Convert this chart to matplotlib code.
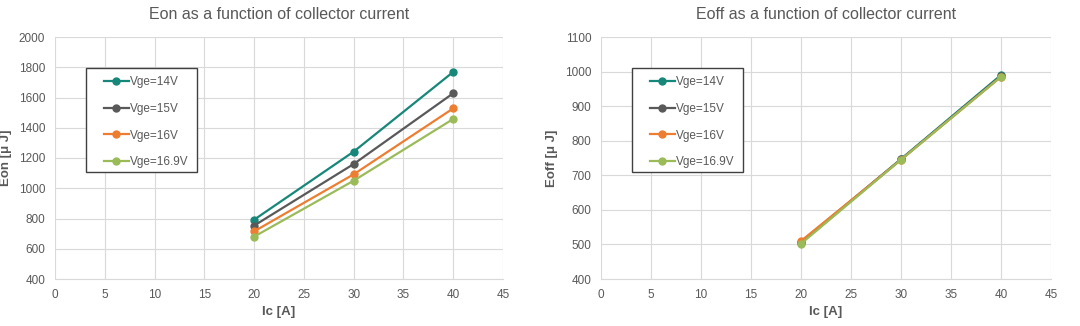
import matplotlib
matplotlib.use('Agg')
import matplotlib.pyplot as plt
from matplotlib.patches import Rectangle

plt.rcParams.update({
    'font.family': ['Liberation Sans', 'DejaVu Sans'],
    'font.size': 9,
})

# collector current points
ic = [20, 30, 40]
labels = ['Vge=14V', 'Vge=15V', 'Vge=16V', 'Vge=16.9V']
colors = ['#17877a', '#595959', '#ed7d31', '#9bbb59']

# turn-on energy [uJ]
eon_14 = [792, 1242, 1769]
eon_15 = [753, 1160, 1628]
eon_16 = [715, 1092, 1528]
eon_169 = [680, 1050, 1458]

# turn-off energy [uJ]
eoff_14 = [505, 747, 990]
eoff_15 = [507, 746, 987]
eoff_16 = [510, 745, 985]
eoff_169 = [502, 745, 985]

TXT = '#595959'
GRID = '#d9d9d9'

fig = plt.figure(figsize=(10.8, 3.26), dpi=100)
ax1 = fig.add_axes([55 / 1080, 47 / 326, 448 / 1080, 242 / 326])
ax2 = fig.add_axes([601 / 1080, 47 / 326, 450 / 1080, 242 / 326])


def style(ax, title, ylabel, ylim, yticks, ylab_x):
    ax.set_xlim(0, 45)
    ax.set_ylim(*ylim)
    ax.set_xticks(range(0, 46, 5))
    ax.set_yticks(yticks)
    ax.grid(True, color=GRID, linewidth=0.8)
    ax.set_axisbelow(True)
    for s in ['top', 'right', 'left']:
        ax.spines[s].set_visible(False)
    ax.spines['bottom'].set_color(GRID)
    ax.tick_params(length=0, colors=TXT, labelsize=8.5, pad=7)
    ax.set_title(title, color=TXT, fontsize=11.5, pad=13)
    ax.set_xlabel('Ic [A]', color=TXT, fontsize=9.5, fontweight='bold', labelpad=4)
    ax.set_ylabel(ylabel, color=TXT, fontsize=9.5, fontweight='bold')
    ax.yaxis.set_label_coords(ylab_x, 0.5)


def boxed_legend(ax, w_px):
    # frame drawn separately so the inner margins can differ per side
    ax.add_patch(Rectangle((31 / w_px, 1 - 135 / 242), 111 / w_px, 104 / 242,
                           transform=ax.transAxes, facecolor='white',
                           edgecolor='#404040', linewidth=1.0, zorder=4))
    leg = ax.legend(loc='upper left', bbox_to_anchor=(49 / w_px, 1 - 39 / 242),
                    frameon=False, fontsize=8.5, labelspacing=1.25,
                    handlelength=2.1, handletextpad=0.1, borderpad=0,
                    borderaxespad=0)
    leg.set_zorder(5)
    for t in leg.get_texts():
        t.set_color(TXT)


for ys, c, lab in zip([eon_14, eon_15, eon_16, eon_169], colors, labels):
    ax1.plot(ic, ys, color=c, marker='o', markersize=5, linewidth=1.6, label=lab)
for ys, c, lab in zip([eoff_14, eoff_15, eoff_16, eoff_169], colors, labels):
    ax2.plot(ic, ys, color=c, marker='o', markersize=5, linewidth=1.6, label=lab)

style(ax1, 'Eon as a function of collector current', 'Eon [\u03bc J]',
      (400, 2000), range(400, 2001, 200), -43 / 448)
style(ax2, 'Eoff as a function of collector current', 'Eoff [\u03bc J]',
      (400, 1100), range(400, 1101, 100), -43 / 450)

boxed_legend(ax1, 448)
boxed_legend(ax2, 450)

fig.savefig('out.png', dpi=100)
